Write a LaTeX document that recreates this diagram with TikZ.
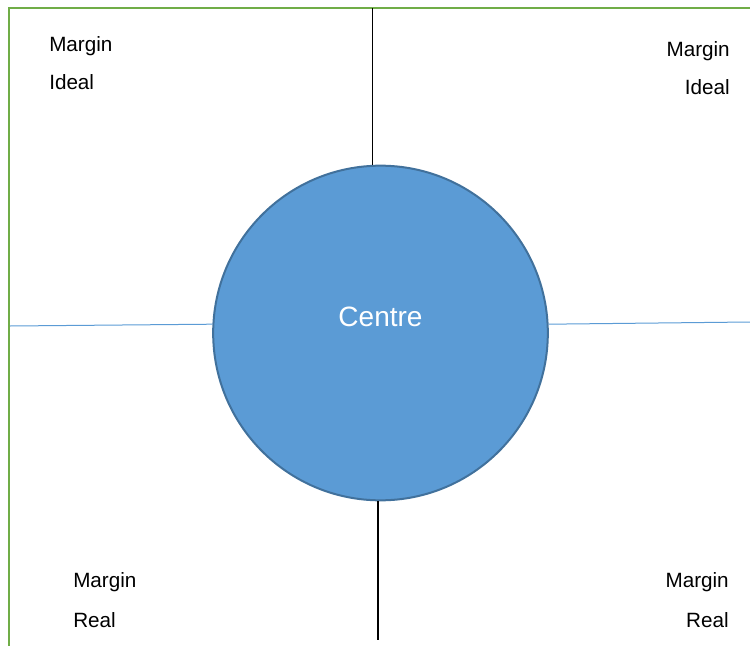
\documentclass[tikz,border=0pt]{standalone}
\usepackage{fontspec}
\setmainfont{Liberation Sans}
\definecolor{frameGreen}{HTML}{70AD47}
\definecolor{discFill}{HTML}{5B9BD5}
\definecolor{discEdge}{HTML}{41719C}
\usetikzlibrary{positioning}

\begin{document}
\begin{tikzpicture}[x=0.75pt, y=-0.75pt,
    label/.style={font=\fontsize{15.5}{18}\selectfont, inner sep=0pt},
    vaxis/.style={draw=black, line width=1pt},
    haxis/.style={draw=discFill, line width=0.75pt}]
    \useasboundingbox (0,0) rectangle (750,646);
    % green frame along the left and top
    \draw[frameGreen, line width=1.6pt] (9,646) -- (9,8) -- (750,8);
    \node[circle, fill=discFill, draw=discEdge, line width=1.5pt,
      minimum size=251pt, inner sep=0pt] (centre) at (380.5,333) {};
    \node[text=white, font=\fontsize{21}{25}\selectfont, inner sep=0pt]
      (centreText) at ([yshift=12pt]centre.center) {Centre};
    % axis ends
    \coordinate (topEnd) at (372.5,8);
    \coordinate (bottomEnd) at (378,640);
    \coordinate (leftEnd) at (10,326);
    \coordinate (rightEnd) at (750,322);
    \draw[vaxis] (topEnd |- centre.north) -- (topEnd);
    \draw[vaxis] (bottomEnd |- centre.south) -- (bottomEnd);
    \draw[haxis] (centre.177.6) -- (leftEnd);
    \draw[haxis] (centre.3.4) -- (rightEnd);
    % quadrant labels
    \node[label, anchor=west] (tlTop) at (49,46) {Margin};
    \node[label, anchor=west] (tlBot) at (49,82) {Ideal};
    \node[label, anchor=east] (trTop) at (730,51) {Margin};
    \node[label, anchor=east] (trBot) at (730,87) {Ideal};
    \node[label, anchor=west] (blTop) at (73,582) {Margin};
    \node[label, anchor=west] (blBot) at (73,620) {Real};
    \node[label, anchor=east] (brTop) at (729,582) {Margin};
    \node[label, anchor=east] (brBot) at (729,620) {Real};
\end{tikzpicture}
\end{document}
